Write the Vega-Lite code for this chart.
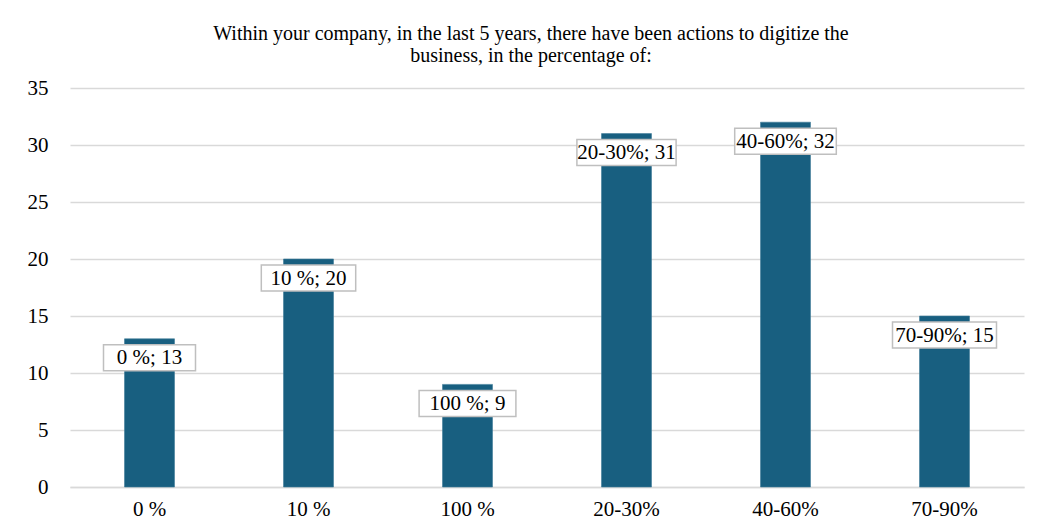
{
  "$schema": "https://vega.github.io/schema/vega-lite/v6.json",
  "width": 954,
  "height": 399,
  "autosize": {"type": "none"},
  "padding": {"left": 70, "top": 88, "right": 18, "bottom": 39},
  "background": "white",
  "config": {
    "view": {"stroke": null},
    "font": "Liberation Serif"
  },
  "title": {
    "text": ["Within your company, in the last 5 years, there have been actions to digitize  the", "business, in the percentage of:"],
    "font": "Liberation Serif",
    "fontSize": 20,
    "fontWeight": "normal",
    "color": "#000000",
    "anchor": "middle",
    "dx": -16,
    "offset": 11,
    "lineHeight": 22.5
  },
  "data": {
    "values": [
      {"cat": "0 %", "v": 13, "label": "0 %; 13"},
      {"cat": "10 %", "v": 20, "label": "10 %; 20"},
      {"cat": "100 %", "v": 9, "label": "100 %; 9"},
      {"cat": "20-30%", "v": 31, "label": "20-30%; 31"},
      {"cat": "40-60%", "v": 32, "label": "40-60%; 32"},
      {"cat": "70-90%", "v": 15, "label": "70-90%; 15"}
    ]
  },
  "encoding": {
    "x": {
      "field": "cat",
      "type": "nominal",
      "sort": null,
      "scale": {"paddingInner": 0.686, "paddingOuter": 0.343},
      "axis": {
        "title": null,
        "labelAngle": 0,
        "labelFont": "Liberation Serif",
        "labelFontSize": 21,
        "labelColor": "#000000",
        "labelPadding": 11,
        "ticks": false,
        "domainColor": "#d9d9d9",
        "domainWidth": 1.5
      }
    }
  },
  "layer": [
    {
      "mark": {"type": "bar", "color": "#185f80", "width": 50, "stroke": "#3f7c99", "strokeWidth": 0.6},
      "encoding": {
        "y": {
          "field": "v",
          "type": "quantitative",
          "scale": {"domain": [0, 35]},
          "axis": {
            "title": null,
            "values": [0, 5, 10, 15, 20, 25, 30, 35],
            "domain": false,
            "ticks": false,
            "labelPadding": 22,
            "labelFont": "Liberation Serif",
            "labelFontSize": 21,
            "labelColor": "#000000",
            "gridColor": "#d9d9d9",
            "gridWidth": 1.5
          }
        }
      }
    },
    {
      "mark": {"type": "bar", "fill": "white", "stroke": "#bfbfbf", "strokeWidth": 1.5, "yOffset": 6, "y2Offset": 32},
      "encoding": {
        "y": {"field": "v", "type": "quantitative"},
        "y2": {"field": "v"},
        "size": {
          "field": "cat",
          "type": "ordinal",
          "sort": null,
          "scale": {"domain": ["0 %", "10 %", "100 %", "20-30%", "40-60%", "70-90%"], "range": [92, 104, 105, 130, 130, 130]},
          "legend": null
        }
      }
    },
    {
      "mark": {"type": "text", "font": "Liberation Serif", "fontSize": 21, "color": "#000000", "baseline": "middle", "yOffset": 19.5},
      "encoding": {
        "y": {"field": "v", "type": "quantitative"},
        "text": {"field": "label"}
      }
    }
  ]
}
